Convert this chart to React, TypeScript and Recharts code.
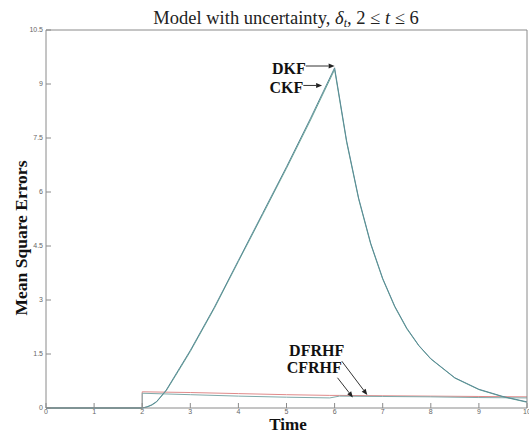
import React from 'react';
import { LineChart, Line, XAxis, YAxis, ReferenceLine, ReferenceDot, Label } from 'recharts';

// ---- data ----
const kfTime = [0, 2, 2.1, 2.2, 2.3, 2.5, 2.75, 3, 3.5, 4, 4.5, 5, 5.5, 6, 6.25, 6.5, 6.75, 7, 7.25, 7.5, 7.75, 8, 8.5, 9, 9.5, 10];
const dkfValues = [0, 0, 0.03, 0.09, 0.18, 0.5, 1.05, 1.6, 2.8, 4.1, 5.4, 6.7, 8.05, 9.45, 7.42, 5.83, 4.58, 3.6, 2.83, 2.22, 1.74, 1.37, 0.84, 0.52, 0.32, 0.17];
const ckfValues = [0, 0, 0.03, 0.08, 0.17, 0.48, 1.02, 1.57, 2.77, 4.07, 5.36, 6.66, 8.0, 9.4, 7.38, 5.8, 4.55, 3.58, 2.81, 2.2, 1.73, 1.36, 0.83, 0.51, 0.31, 0.16];

const frhfTime = [0, 2, 2, 3, 4, 5, 5.9, 6.1, 7, 8, 9, 10];
const dfrhfValues = [0, 0, 0.45, 0.43, 0.4, 0.37, 0.35, 0.35, 0.34, 0.33, 0.32, 0.31];
const cfrhfValues = [0, 0, 0.41, 0.37, 0.33, 0.3, 0.28, 0.33, 0.32, 0.31, 0.29, 0.28];

const xTicks = [0, 1, 2, 3, 4, 5, 6, 7, 8, 9, 10];
const yTicks = [0, 1.5, 3, 4.5, 6, 7.5, 9, 10.5];

// annotations (data coordinates)
const labels = [
  { text: 'DKF', x: 5.4, y: 9.42 },
  { text: 'CKF', x: 5.35, y: 8.9 },
  { text: 'DFRHF', x: 6.2, y: 1.6 },
  { text: 'CFRHF', x: 6.15, y: 1.12 },
];
const arrows = [
  { x1: 5.4, y1: 9.5, x2: 6.0, y2: 9.5 },
  { x1: 5.35, y1: 8.96, x2: 5.74, y2: 8.96 },
  { x1: 6.15, y1: 1.3, x2: 6.68, y2: 0.36 },
  { x1: 6.06, y1: 0.84, x2: 6.38, y2: 0.29 },
];

const toPoints = (ts: number[], vs: number[]) => ts.map((t, i) => ({ t, v: vs[i] }));

const ArrowShape = (props: any) => {
  const { x1, y1, x2, y2 } = props;
  const ang = Math.atan2(y2 - y1, x2 - x1);
  const L = 6, W = 2.5;
  const bx = x2 - L * Math.cos(ang), by = y2 - L * Math.sin(ang);
  const px = -Math.sin(ang) * W, py = Math.cos(ang) * W;
  return (
    <g>
      <line x1={x1} y1={y1} x2={bx} y2={by} stroke="#333" strokeWidth={1} />
      <polygon points={`${x2},${y2} ${bx + px},${by + py} ${bx - px},${by - py}`} fill="#222" />
    </g>
  );
};

const serif = 'Liberation Serif, DejaVu Serif, Times New Roman, serif';

const TextShape = (text: string) => (props: any) => (
  <text x={props.cx} y={props.cy} textAnchor="end" dominantBaseline="central"
    fontFamily={serif} fontWeight="bold" fontSize={16} fill="#111">
    {text}
  </text>
);

const tickFont = { fontSize: 7, fill: '#666', fontFamily: 'Liberation Sans, Arial, sans-serif' };

export default function App() {
  return (
    <div style={{ position: 'absolute', left: 0, top: 0, width: 529, height: 434, background: '#fff' }}>
      <LineChart width={529} height={434} margin={{ top: 0, right: 0, bottom: 0, left: 0 }}>
        <XAxis xAxisId="b" dataKey="t" type="number" domain={[0, 10]} ticks={xTicks} height={26}
          allowDuplicatedCategory={false}
          stroke="#8a8a8a" tickSize={-5} tickMargin={6} interval={0} tick={tickFont}>
          <Label content={() => (
            <text x={288} y={430} textAnchor="middle" fontFamily={serif} fontWeight="bold" fontSize={17} fill="#111">Time</text>
          )} />
        </XAxis>
        <XAxis xAxisId="top" orientation="top" dataKey="t" type="number" domain={[0, 10]} ticks={xTicks} height={30}
          stroke="#8a8a8a" tickSize={-5} tick={false} interval={0}>
          <Label content={() => (
            <text x={286} y={24} textAnchor="middle" fontFamily={serif} fontSize={18.5} fill="#222">
              Model with uncertainty, <tspan fontStyle="italic">δ</tspan><tspan fontStyle="italic" fontSize={12} dy={3}>t</tspan><tspan dy={-3}>, 2 ≤ </tspan><tspan fontStyle="italic">t</tspan> ≤ 6
            </text>
          )} />
        </XAxis>
        <YAxis yAxisId="l" type="number" domain={[0, 10.5]} ticks={yTicks} width={46} interval={0}
          stroke="#8a8a8a" tickSize={-5} tickMargin={8} tick={tickFont}>
          <Label content={() => (
            <text x={0} y={0} transform="translate(27,238) rotate(-90)" textAnchor="middle"
              fontFamily={serif} fontWeight="bold" fontSize={17.5} fill="#111">Mean Square Errors</text>
          )} />
        </YAxis>
        <YAxis yAxisId="r" orientation="right" type="number" domain={[0, 10.5]} ticks={yTicks} width={2} interval={0}
          stroke="#8a8a8a" tickSize={-5} tick={false} />

        <Line xAxisId="b" yAxisId="l" data={toPoints(frhfTime, dfrhfValues)} dataKey="v" type="linear"
          stroke="#e08a8a" strokeWidth={1} dot={false} isAnimationActive={false} name="DFRHF" />
        <Line xAxisId="b" yAxisId="l" data={toPoints(frhfTime, cfrhfValues)} dataKey="v" type="linear"
          stroke="#7fa9a9" strokeWidth={1} dot={false} isAnimationActive={false} name="CFRHF" />
        <Line xAxisId="b" yAxisId="l" data={toPoints(kfTime, ckfValues)} dataKey="v" type="linear"
          stroke="#6aa596" strokeWidth={1} dot={false} isAnimationActive={false} name="CKF" />
        <Line xAxisId="b" yAxisId="l" data={toPoints(kfTime, dkfValues)} dataKey="v" type="linear"
          stroke="#5a8b98" strokeWidth={1} dot={false} isAnimationActive={false} name="DKF" />

        {arrows.map((a, i) => (
          <ReferenceLine key={'a' + i} xAxisId="b" yAxisId="l" ifOverflow="visible"
            segment={[{ x: a.x1, y: a.y1 }, { x: a.x2, y: a.y2 }]} shape={ArrowShape} />
        ))}
        {labels.map((l, i) => (
          <ReferenceDot key={'l' + i} xAxisId="b" yAxisId="l" x={l.x} y={l.y} r={0} ifOverflow="visible"
            shape={TextShape(l.text)} />
        ))}
      </LineChart>
    </div>
  );
}
